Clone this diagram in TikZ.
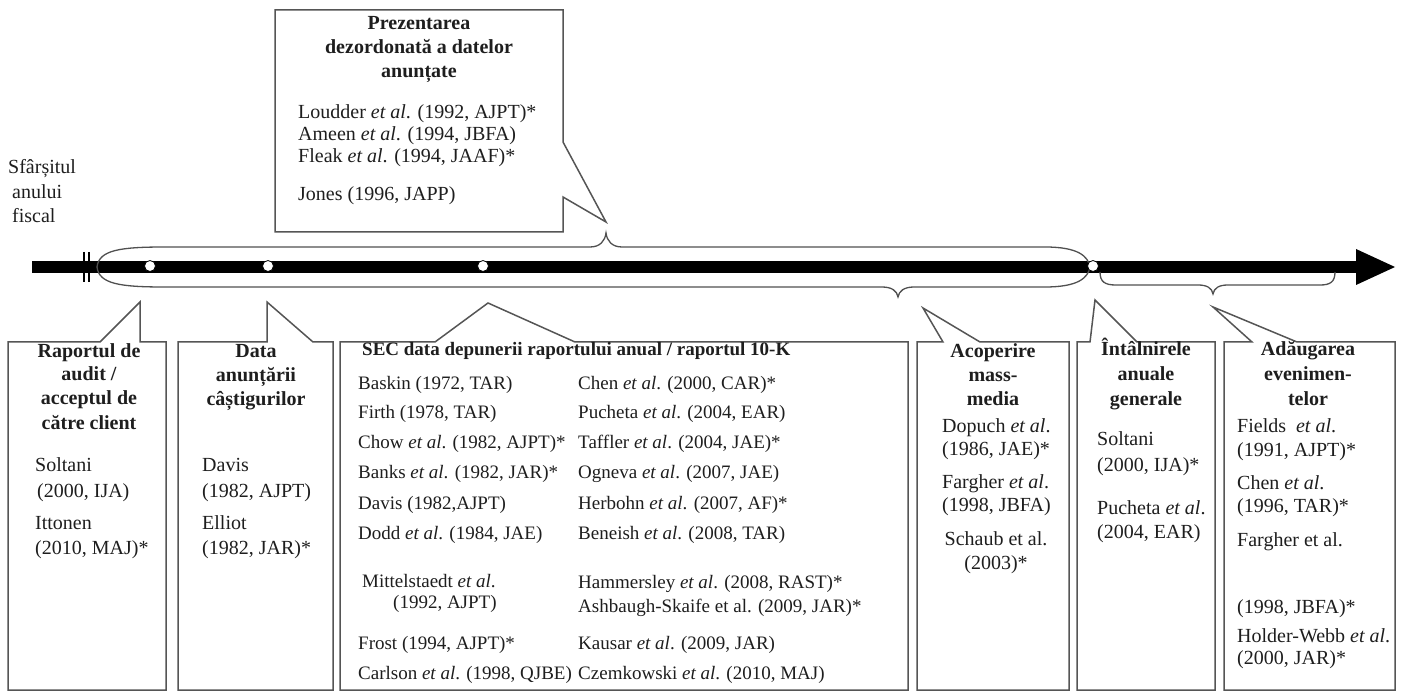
\documentclass[tikz,border=0pt]{standalone}
\usepackage{fontspec}
\setmainfont{Liberation Serif}
\definecolor{ink}{HTML}{1E1E1E}
\definecolor{boxgray}{HTML}{555555}
\definecolor{linegray}{HTML}{505050}
\tikzset{
 txt/.style={anchor=base west, inner sep=0pt, text=ink, font=\fontsize{20}{24}\selectfont},
 stxt/.style={anchor=base west, inner sep=0pt, text=ink, font=\fontsize{19}{23}\selectfont},
 ctr/.style={anchor=base, inner sep=0pt, text=ink, font=\fontsize{20}{24}\selectfont},
 ttl/.style={anchor=base, inner sep=0pt, text=ink, font=\fontsize{20}{24}\selectfont\bfseries},
 ttlw/.style={anchor=base west, inner sep=0pt, text=ink, font=\fontsize{19}{23}\selectfont\bfseries},
 callout/.style={draw=boxgray, line width=1.5pt, line join=miter, fill=white},
 bracepath/.style={draw=linegray, line width=1.3pt},
 dot/.style={circle, draw=black, fill=white, inner sep=0pt, minimum size=11pt, line width=0.8pt},
}
\begin{document}
\begin{tikzpicture}[x=1pt,y=-1pt]
\useasboundingbox (0,0) rectangle (1403,692);
\fill[white] (0,0) rectangle (1403,692);

% timeline
\fill[black] (32,261) rectangle (1358,273);
\fill[black] (1356,249) -- (1395,267) -- (1356,285) -- cycle;
\draw[black, line width=2pt] (83.5,252) -- (83.5,282);
\draw[black, line width=2pt] (88.5,252) -- (88.5,282);

% lens / braces
\coordinate (lensL) at (97,267);
\coordinate (lensR) at (1090,267);
\coordinate (cuspTop) at (606,233);
\coordinate (cuspBot) at (898,297);
\coordinate (cuspB2) at (1213,294);
\draw[bracepath] (lensL) .. controls (99,250) and (120,247) .. (165,247) -- (590,247)
  .. controls (600,247) and (605,241) .. (cuspTop) .. controls (607,241) and (612,247) .. (622,247)
  -- (1045,247) .. controls (1078,247) and (1088,256) .. (lensR);
\draw[bracepath] (lensL) .. controls (99,284) and (120,287) .. (165,287) -- (882,287)
  .. controls (892,287) and (897,291) .. (cuspBot) .. controls (899,291) and (904,287) .. (914,287)
  -- (1045,287) .. controls (1078,287) and (1088,278) .. (lensR);
\draw[bracepath] (1100,272) .. controls (1100,282) and (1105,285) .. (1116,285) -- (1198,285)
  .. controls (1207,285) and (1212,288) .. (cuspB2) .. controls (1214,288) and (1219,285) .. (1228,285)
  -- (1320,285) .. controls (1330,285) and (1335,282) .. (1335,272);

% milestone dots
\node[dot] (m1) at (150,266) {};
\node[dot] (m2) at (268,266) {};
\node[dot] (m3) at (483,266) {};
\node[dot] (m4) at (1093,266) {};

% start label
\node[txt] (sf1) at (8,174) {Sfârșitul};
\node[txt] (sf2) at (12,199) {anului};
\node[txt] (sf3) at (12,223) {fiscal};

% top callout
\coordinate (tipTop) at (606,222);
\draw[callout] (275,10) -- (563,10) -- (563,142) -- (tipTop) -- (563,197) -- (563,232) -- (275,232) -- cycle;
\node[ttl] (pt1) at (419,30) {Prezentarea};
\node[ttl] (pt2) at (419,54) {dezordonată a datelor};
\node[ttl] (pt3) at (419,78) {anunțate};
\node[txt] (p1) at (298,119) {Loudder \textit{et al}. (1992, AJPT)*};
\node[txt] (p2) at (298,141) {Ameen \textit{et al}. (1994, JBFA)};
\node[txt] (p3) at (298,163) {Fleak \textit{et al}. (1994, JAAF)*};
\node[txt] (p4) at (298,201) {Jones (1996, JAPP)};

% bottom callouts
\coordinate (tip1) at (140,302);
\coordinate (tip2) at (267,302);
\coordinate (tip3) at (488,303);
\coordinate (tip4) at (923,308);
\coordinate (tip5) at (1095,300);
\coordinate (tip6) at (1213,307);
\draw[callout] (8,342) -- (100,342) -- (tip1) -- (140,342) -- (166,342) -- (166,690) -- (8,690) -- cycle;
\draw[callout] (178,342) -- (267,342) -- (tip2) -- (313,342) -- (333,342) -- (333,690) -- (178,690) -- cycle;
\draw[callout] (340,342) -- (435,342) -- (tip3) -- (575,342) -- (908,342) -- (908,690) -- (340,690) -- cycle;
\draw[callout] (917,342) -- (943,342) -- (tip4) -- (980,342) -- (1069,342) -- (1069,690) -- (917,690) -- cycle;
\draw[callout] (1077,342) -- (1090,342) -- (tip5) -- (1137,342) -- (1215,342) -- (1215,690) -- (1077,690) -- cycle;
\draw[callout] (1224,342) -- (1252,342) -- (tip6) -- (1297,342) -- (1395,342) -- (1395,690) -- (1224,690) -- cycle;

% box 1
\node[ttl] (a1) at (89,358) {Raportul de};
\node[ttl] (a2) at (89,381) {audit /};
\node[ttl] (a3) at (89,405) {acceptul de};
\node[ttl] (a4) at (89,429) {către client};
\node[txt] (a5) at (35,471) {Soltani};
\node[txt] (a6) at (37,497) {(2000, IJA)};
\node[txt] (a7) at (35,529) {Ittonen};
\node[txt] (a8) at (35,554) {(2010, MAJ)*};

% box 2
\node[ttl] (b1) at (256,358) {Data};
\node[ttl] (b2) at (256,382) {anunțării};
\node[ttl] (b3) at (256,406) {câștigurilor};
\node[txt] (b5) at (202,471) {Davis};
\node[txt] (b6) at (202,497) {(1982, AJPT)};
\node[txt] (b7) at (202,529) {Elliot};
\node[txt] (b8) at (202,554) {(1982, JAR)*};

% box 3
\node[ttlw] (c0) at (362,356) {SEC data depunerii raportului anual / raportul 10-K};
\node[stxt] (cl1) at (358,390) {Baskin (1972, TAR)};
\node[stxt] (cl2) at (358,418) {Firth (1978, TAR)};
\node[stxt] (cl3) at (358,448) {Chow \textit{et al}. (1982, AJPT)*};
\node[stxt] (cl4) at (358,478) {Banks \textit{et al}. (1982, JAR)*};
\node[stxt] (cl5) at (358,509) {Davis (1982,AJPT)};
\node[stxt] (cl6) at (358,539) {Dodd \textit{et al}. (1984, JAE)};
\node[stxt] (cl7) at (362,587) {Mittelstaedt \textit{et al}.};
\node[stxt] (cl8) at (393,608) {(1992, AJPT)};
\node[stxt] (cl9) at (358,649) {Frost (1994, AJPT)*};
\node[stxt] (cl10) at (358,679) {Carlson \textit{et al}. (1998, QJBE)};
\node[stxt] (cr1) at (578,390) {Chen \textit{et al}. (2000, CAR)*};
\node[stxt] (cr2) at (578,418) {Pucheta \textit{et al}. (2004, EAR)};
\node[stxt] (cr3) at (578,448) {Taffler \textit{et al}. (2004, JAE)*};
\node[stxt] (cr4) at (578,478) {Ogneva \textit{et al}. (2007, JAE)};
\node[stxt] (cr5) at (578,509) {Herbohn \textit{et al}. (2007, AF)*};
\node[stxt] (cr6) at (578,539) {Beneish \textit{et al}. (2008, TAR)};
\node[stxt] (cr7) at (578,588) {Hammersley \textit{et al}. (2008, RAST)*};
\node[stxt] (cr8) at (578,612) {Ashbaugh-Skaife et al. (2009, JAR)*};
\node[stxt] (cr9) at (578,649) {Kausar \textit{et al}. (2009, JAR)};
\node[stxt] (cr10) at (578,679) {Czemkowski \textit{et al}. (2010, MAJ)};

% box 4
\node[ttl] (d1) at (993,358) {Acoperire};
\node[ttl] (d2) at (993,382) {mass-};
\node[ttl] (d3) at (993,406) {media};
\node[txt] (d4) at (942,432) {Dopuch \textit{et al}.};
\node[txt] (d5) at (942,455) {(1986, JAE)*};
\node[txt] (d6) at (942,488) {Fargher \textit{et al}.};
\node[txt] (d7) at (942,511) {(1998, JBFA)};
\node[ctr] (d8) at (996,545) {Schaub et al.};
\node[ctr] (d9) at (996,569) {(2003)*};

% box 5
\node[ttl] (e1) at (1146,356) {Întâlnirele};
\node[ttl] (e2) at (1146,381) {anuale};
\node[ttl] (e3) at (1146,406) {generale};
\node[txt] (e4) at (1097,446) {Soltani};
\node[txt] (e5) at (1097,471) {(2000, IJA)*};
\node[txt] (e6) at (1097,514) {Pucheta \textit{et al}.};
\node[txt] (e7) at (1097,538) {(2004, EAR)};

% box 6
\node[ttl] (f1) at (1308,356) {Adăugarea};
\node[ttl] (f2) at (1308,381) {evenimen-};
\node[ttl] (f3) at (1308,406) {telor};
\node[txt] (f4) at (1237,432) {Fields \ \textit{et al}.};
\node[txt] (f5) at (1237,456) {(1991, AJPT)*};
\node[txt] (f6) at (1237,489) {Chen \textit{et al}.};
\node[txt] (f7) at (1237,512) {(1996, TAR)*};
\node[txt] (f8) at (1237,546) {Fargher et al.};
\node[txt] (f9) at (1237,613) {(1998, JBFA)*};
\node[txt] (f10) at (1237,642) {Holder-Webb \textit{et al}.};
\node[txt] (f11) at (1237,664) {(2000, JAR)*};
\end{tikzpicture}
\end{document}
